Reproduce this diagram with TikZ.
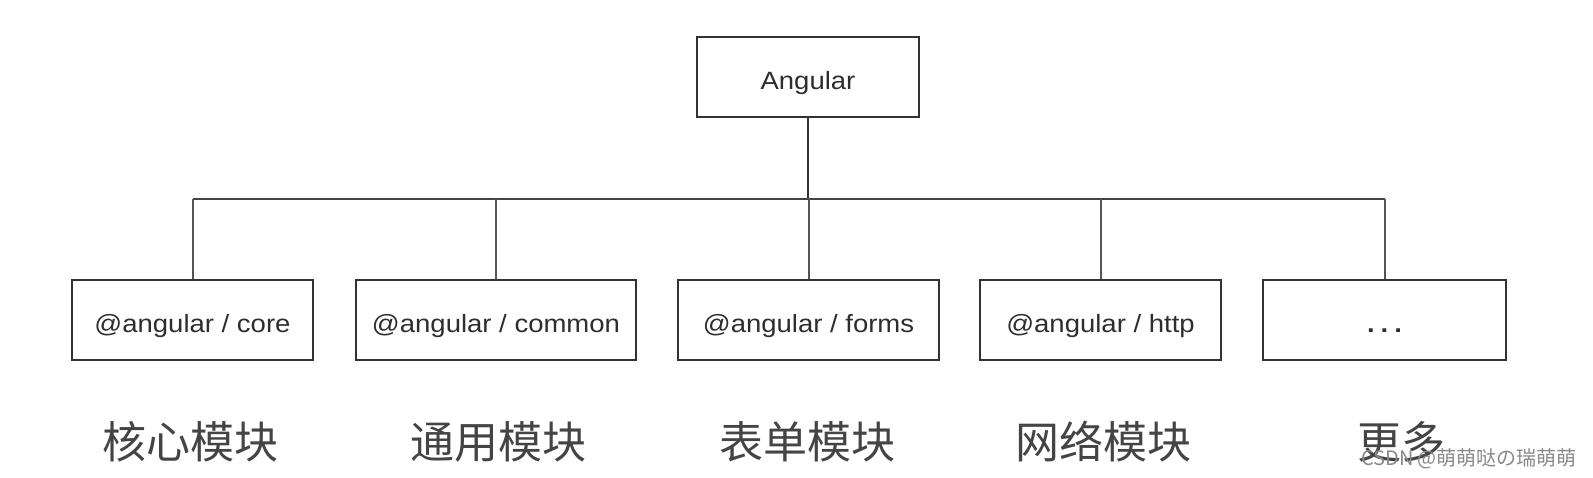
\documentclass[tikz,border=0pt]{standalone}
\usepackage{fontspec}
\setmainfont{Liberation Sans}
\newfontfamily\latfont[FakeStretch=1.1]{Liberation Sans}
\newfontfamily\cjkfont{Noto Sans CJK SC}
\definecolor{boxcol}{HTML}{333333}
\definecolor{txtcol}{HTML}{2E2E2E}
\definecolor{cjkcol}{HTML}{444444}
\definecolor{linkcol}{HTML}{555555}
\definecolor{markcol}{HTML}{8A8A8A}
\tikzset{
  modbox/.style={draw=boxcol, line width=2.8pt, inner sep=0pt, minimum height=80pt,
    text height=26pt, text depth=0pt,
    text=txtcol, font=\latfont\fontsize{25}{30}\selectfont},
  cnlabel/.style={inner sep=0pt, text=cjkcol, font=\cjkfont\fontsize{44}{50}\selectfont},
  link/.style={draw=linkcol, line width=2pt},
  trunk/.style={draw=boxcol, line width=2.8pt},
  barline/.style={draw=linkcol!80!black, line width=2.6pt},
}
\begin{document}
\begin{tikzpicture}[x=1pt, y=-1pt]
\useasboundingbox (0,0) rectangle (1593,478);
\fill[white] (0,0) rectangle (1593,478);

\node[modbox, minimum width=222pt] (root) at (808,77) {Angular};

\node[modbox, minimum width=241pt] (c1) at (192.5,320) {@angular / core};
\node[modbox, minimum width=280pt] (c2) at (496,320) {@angular / common};
\node[modbox, minimum width=261pt] (c3) at (808.5,320) {@angular / forms};
\node[modbox, minimum width=241pt] (c4) at (1100.5,320) {@angular / http};
\node[modbox, minimum width=243pt] (c5) at (1384.5,320) {\bfseries .\hspace{6pt}.\hspace{6pt}.};

\coordinate (bar) at (808,199);

\draw[trunk] (root.south) -- (root.south |- bar);
\draw[barline] (c1.north |- bar) -- (c5.north |- bar);
\foreach \c in {c1,c2,c3,c4,c5} {
  \draw[link] (\c.north |- bar) -- (\c.north);
}

\node[cnlabel] (l1) at (190,442) {核心模块};
\node[cnlabel] (l2) at (498,442) {通用模块};
\node[cnlabel] (l3) at (807,442) {表单模块};
\node[cnlabel] (l4) at (1103,442) {网络模块};
\node[cnlabel] (l5) at (1401,442) {更多};

\node[inner sep=0pt, text=markcol, font=\cjkfont\fontsize{20}{22}\selectfont] (wm) at (1469,459) {CSDN @萌萌哒の瑞萌萌};
\end{tikzpicture}
\end{document}
